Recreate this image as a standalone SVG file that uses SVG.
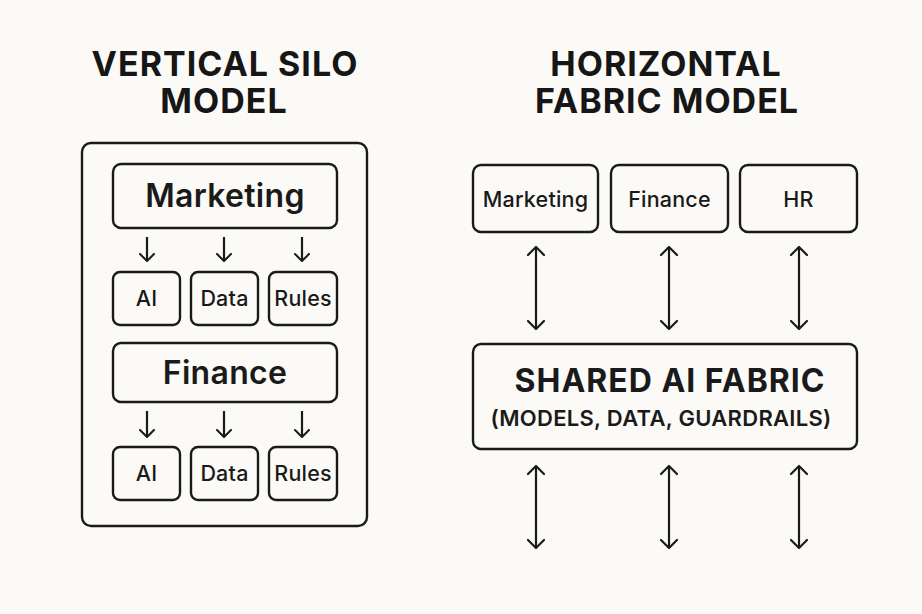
<svg xmlns="http://www.w3.org/2000/svg" width="922" height="614" viewBox="0 0 922 614">
  <defs>
    <marker id="chev" viewBox="0 0 20 20" refX="10" refY="10" markerWidth="20" markerHeight="20" markerUnits="userSpaceOnUse" orient="auto-start-reverse">
      <path d="M2 2 L10 10 L2 18" fill="none" stroke="#1a1a1a" stroke-width="2.2" stroke-linecap="round" stroke-linejoin="round"/>
    </marker>
    <marker id="chevS" viewBox="0 0 16 16" refX="8" refY="8" markerWidth="16" markerHeight="16" markerUnits="userSpaceOnUse" orient="auto">
      <path d="M1 1 L8 8 L1 15" fill="none" stroke="#1a1a1a" stroke-width="2" stroke-linecap="round" stroke-linejoin="round"/>
    </marker>
  </defs>
  <style>
    .box{fill:none;stroke:#1a1a1a;stroke-width:2.4}
    .title{font-family:Inter,"Liberation Sans",sans-serif;font-weight:700;font-size:34px;fill:#161616;text-anchor:middle;letter-spacing:1px}
    .big{font-family:Inter,"Liberation Sans",sans-serif;font-weight:600;font-size:32px;fill:#1a1a1a;text-anchor:middle;letter-spacing:0.3px}
    .sm{font-family:Inter,"Liberation Sans",sans-serif;font-weight:500;font-size:21.5px;fill:#1a1a1a;text-anchor:middle;letter-spacing:0.2px}
    .fab{font-family:Inter,"Liberation Sans",sans-serif;font-weight:700;font-size:32px;fill:#1a1a1a;text-anchor:middle;letter-spacing:1px}
    .sub{font-family:Inter,"Liberation Sans",sans-serif;font-weight:600;font-size:22px;fill:#1a1a1a;text-anchor:middle;letter-spacing:0.3px}
    .arr{stroke:#1a1a1a;stroke-width:2.2;fill:none}
  </style>
  <rect width="922" height="614" fill="#fbfaf6"/>

  <g id="title-left">
    <text class="title" x="225" y="76">VERTICAL SILO</text>
    <text class="title" x="224" y="113">MODEL</text>
  </g>
  <g id="title-right">
    <text class="title" x="666" y="76">HORIZONTAL</text>
    <text class="title" x="667" y="113">FABRIC MODEL</text>
  </g>

  <g id="silo-container"><rect class="box" x="82" y="143" width="285" height="383" rx="9"/></g>

  <g id="silo-marketing"><rect class="box" x="113" y="164" width="224" height="64" rx="8"/><text class="big" x="225" y="207">Marketing</text></g>
  <g id="silo-m-ai"><rect class="box" x="113" y="272" width="67" height="53" rx="7"/><text class="sm" x="146.5" y="306">AI</text></g>
  <g id="silo-m-data"><rect class="box" x="191" y="272" width="67" height="53" rx="7"/><text class="sm" x="224.5" y="306">Data</text></g>
  <g id="silo-m-rules"><rect class="box" x="269" y="272" width="68" height="53" rx="7"/><text class="sm" x="303" y="306">Rules</text></g>

  <g id="silo-finance"><rect class="box" x="113" y="343" width="224" height="59" rx="8"/><text class="big" x="225" y="384">Finance</text></g>
  <g id="silo-f-ai"><rect class="box" x="113" y="447" width="67" height="53" rx="7"/><text class="sm" x="146.5" y="481">AI</text></g>
  <g id="silo-f-data"><rect class="box" x="191" y="447" width="67" height="53" rx="7"/><text class="sm" x="224.5" y="481">Data</text></g>
  <g id="silo-f-rules"><rect class="box" x="269" y="447" width="68" height="53" rx="7"/><text class="sm" x="303" y="481">Rules</text></g>

  <g id="fab-marketing"><rect class="box" x="473" y="165" width="125" height="67" rx="8"/><text class="sm" x="535.5" y="207">Marketing</text></g>
  <g id="fab-finance"><rect class="box" x="611" y="165" width="117" height="67" rx="8"/><text class="sm" x="669.5" y="207">Finance</text></g>
  <g id="fab-hr"><rect class="box" x="740" y="165" width="117" height="67" rx="8"/><text class="sm" x="798.5" y="207">HR</text></g>

  <g id="shared-fabric">
    <rect class="box" x="473" y="344" width="384" height="105" rx="8"/>
    <text class="fab" x="670" y="392">SHARED AI FABRIC</text>
    <text class="sub" x="661" y="426">(MODELS, DATA, GUARDRAILS)</text>
  </g>

  <g id="connectors">
    <line class="arr" x1="147" y1="237" x2="147" y2="261" marker-end="url(#chevS)"/>
    <line class="arr" x1="224" y1="237" x2="224" y2="261" marker-end="url(#chevS)"/>
    <line class="arr" x1="302" y1="237" x2="302" y2="261" marker-end="url(#chevS)"/>
    <line class="arr" x1="147" y1="411" x2="147" y2="437" marker-end="url(#chevS)"/>
    <line class="arr" x1="224" y1="411" x2="224" y2="437" marker-end="url(#chevS)"/>
    <line class="arr" x1="302" y1="411" x2="302" y2="437" marker-end="url(#chevS)"/>

    <line class="arr" x1="536" y1="247" x2="536" y2="329" marker-start="url(#chev)" marker-end="url(#chev)"/>
    <line class="arr" x1="669" y1="247" x2="669" y2="329" marker-start="url(#chev)" marker-end="url(#chev)"/>
    <line class="arr" x1="799" y1="247" x2="799" y2="329" marker-start="url(#chev)" marker-end="url(#chev)"/>
    <line class="arr" x1="536" y1="466" x2="536" y2="548" marker-start="url(#chev)" marker-end="url(#chev)"/>
    <line class="arr" x1="669" y1="466" x2="669" y2="548" marker-start="url(#chev)" marker-end="url(#chev)"/>
    <line class="arr" x1="799" y1="466" x2="799" y2="548" marker-start="url(#chev)" marker-end="url(#chev)"/>
  </g>
</svg>
